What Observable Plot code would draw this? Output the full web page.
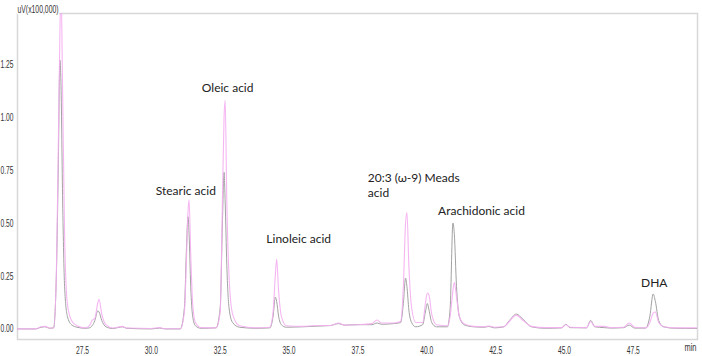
<!DOCTYPE html>
<html>
<head>
<meta charset="utf-8">
<script src="https://cdn.jsdelivr.net/npm/d3@7"></script>
<script src="https://cdn.jsdelivr.net/npm/@observablehq/plot@0.6"></script>
<style>
  html, body { margin: 0; padding: 0; background: #fff; }
  #chart { width: 702px; height: 356px; }
</style>
</head>
<body>
<div id="chart"></div>
<script>
// Retention time (min)
const times = [
  25.1, 25.8, 26.0, 26.15, 26.3, 26.45, 26.55, 26.62, 26.68, 26.72, 26.78, 26.85, 26.95, 27.1, 27.3, 27.6,
  27.75, 27.85, 27.95, 28.05, 28.1, 28.2, 28.35, 28.6, 28.95, 29.1, 30.0, 30.3, 30.5,
  31.05, 31.2, 31.28, 31.33, 31.37, 31.43, 31.5, 31.6, 31.8,
  32.35, 32.5, 32.58, 32.64, 32.68, 32.74, 32.82, 32.95, 33.2, 33.8,
  34.3, 34.42, 34.5, 34.55, 34.62, 34.72, 34.9,
  35.5, 36.0, 36.5, 36.8, 37.0, 37.5, 38.0, 38.2, 38.35, 38.8,
  39.05, 39.15, 39.23, 39.28, 39.35, 39.45, 39.6,
  39.85, 39.95, 40.02, 40.08, 40.18, 40.35,
  40.75, 40.85, 40.95, 41.0, 41.08, 41.18, 41.35, 41.7,
  42.1, 42.25, 42.45, 42.8, 43.0, 43.25, 43.5, 43.8, 44.3,
  44.9, 45.05, 45.2, 45.8, 45.95, 46.1, 46.45, 46.7,
  47.15, 47.35, 47.55, 47.95, 48.1, 48.22, 48.3, 48.42, 48.6, 49.0, 49.8
];
// Sample 1 (gray trace), uV x100,000
const graySignal = [
  0.0, 0.0, 0.008, 0.01, 0.003, 0.005, 0.25, 0.75, 1.27, 1.15, 0.6, 0.2, 0.06, 0.02, 0.008, 0.003,
  0.005, 0.015, 0.04, 0.085, 0.08, 0.04, 0.01, 0.002, 0.01, 0.003, 0.0, 0.004, 0.0,
  0.0, 0.1, 0.4, 0.53, 0.45, 0.2, 0.06, 0.015, 0.003,
  0.005, 0.1, 0.5, 0.74, 0.6, 0.3, 0.1, 0.03, 0.008, 0.003,
  0.005, 0.06, 0.15, 0.13, 0.06, 0.02, 0.008,
  0.01, 0.013, 0.016, 0.025, 0.018, 0.02, 0.02, 0.028, 0.022, 0.025,
  0.03, 0.12, 0.24, 0.2, 0.09, 0.03, 0.01,
  0.02, 0.08, 0.12, 0.09, 0.03, 0.01,
  0.01, 0.1, 0.5, 0.45, 0.2, 0.06, 0.02, 0.01,
  0.008, 0.012, 0.005, 0.01, 0.04, 0.07, 0.045, 0.01, 0.003,
  0.005, 0.022, 0.006, 0.005, 0.04, 0.01, 0.006, 0.004,
  0.006, 0.018, 0.004, 0.004, 0.06, 0.165, 0.13, 0.04, 0.01, 0.003, 0.002
];
// Sample 2 (pink trace)
const pinkSignal = [
  0.0, 0.0, 0.01, 0.012, 0.004, 0.005, 0.25, 0.85, 1.4, 1.62, 1.1, 0.45, 0.12, 0.04, 0.015, 0.005,
  0.015, 0.04, 0.05, 0.12, 0.14, 0.07, 0.02, 0.004, 0.012, 0.004, 0.002, 0.006, 0.001,
  0.001, 0.08, 0.35, 0.55, 0.61, 0.35, 0.12, 0.03, 0.006,
  0.005, 0.08, 0.6, 1.0, 1.08, 0.6, 0.25, 0.07, 0.015, 0.005,
  0.008, 0.08, 0.25, 0.33, 0.18, 0.06, 0.015,
  0.012, 0.016, 0.016, 0.028, 0.018, 0.02, 0.025, 0.042, 0.028, 0.028,
  0.035, 0.2, 0.5, 0.55, 0.3, 0.1, 0.03,
  0.03, 0.12, 0.17, 0.16, 0.07, 0.02,
  0.015, 0.06, 0.18, 0.22, 0.15, 0.06, 0.025, 0.012,
  0.01, 0.014, 0.008, 0.01, 0.035, 0.065, 0.04, 0.012, 0.006,
  0.006, 0.02, 0.008, 0.006, 0.035, 0.012, 0.012, 0.006,
  0.008, 0.028, 0.008, 0.005, 0.03, 0.075, 0.08, 0.03, 0.01, 0.005, 0.005
];
// Peak annotations
const peakLabels = ["Stearic acid", "Oleic acid", "Linoleic acid", "20:3 (ω-9) Meads\nacid", "Arachidonic acid", "DHA"];
const peakLabelTimes = [31.25, 32.77, 35.35, 37.86, 40.41, 48.26];
const peakLabelValues = [0.654, 1.144, 0.428, 0.68, 0.56, 0.221];
const peakLabelAnchors = ["middle", "middle", "middle", "start", "start", "middle"];
// Axis ticks
const xTicks = [27.5, 30.0, 32.5, 35.0, 37.5, 40.0, 42.5, 45.0, 47.5];
const yTicks = [0, 0.25, 0.5, 0.75, 1.0, 1.25];

const grayData = times.map((t, i) => ({t, v: graySignal[i]}));
const pinkData = times.map((t, i) => ({t, v: pinkSignal[i]}));
const labelData = peakLabels.map((text, i) => ({text, t: peakLabelTimes[i], v: peakLabelValues[i], anchor: peakLabelAnchors[i]}));

const axisFont = "'Liberation Sans', Arial, sans-serif";
const labelFont = "Lato, 'Open Sans', sans-serif";

const chart = Plot.plot({
  width: 702,
  height: 356,
  marginLeft: 17,
  marginRight: 5,
  marginTop: 13,
  marginBottom: 17,
  x: {domain: [25.14, 49.83]},
  y: {domain: [-0.05, 1.49]},
  style: {background: "#fff", overflow: "visible"},
  marks: [
    Plot.frame({stroke: "#d8d8d8", strokeWidth: 1.5}),
    Plot.line(grayData, {x: "t", y: "v", stroke: "#a2a2a2", strokeWidth: 1, curve: "monotone-x", clip: true}),
    Plot.line(pinkData, {x: "t", y: "v", stroke: "#f4aef1", strokeWidth: 1.1, strokeOpacity: 0.9, curve: "monotone-x", clip: true}),
    Plot.axisY({ticks: yTicks, tickSize: 0, tickPadding: 4, tickFormat: d3.format(".2f"), label: null, fontSize: 11, fontFamily: axisFont, fill: "#333"}),
    Plot.axisX({ticks: xTicks, tickSize: 0, tickPadding: 7, tickFormat: d3.format(".1f"), label: null, fontSize: 11, fontFamily: axisFont, fill: "#333"}),
    Plot.text(["uV(x100,000)"], {frameAnchor: "top-left", dy: -8, dx: 0, text: d => d, fontSize: 11, fontFamily: axisFont, fill: "#333", textAnchor: "start", stroke: "#fff", strokeWidth: 4, paintOrder: "stroke"}),
    Plot.text(["min"], {frameAnchor: "bottom-right", dy: 11, dx: -1, text: d => d, fontSize: 11, fontFamily: axisFont, fill: "#333", textAnchor: "end"}),
    Plot.text(labelData.filter(d => d.anchor === "middle"), {x: "t", y: "v", text: "text", textAnchor: "middle", fontSize: 12, fontFamily: labelFont, fill: "#222", lineHeight: 1.25}),
    Plot.text(labelData.filter(d => d.anchor === "start"), {x: "t", y: "v", text: "text", textAnchor: "start", fontSize: 12, fontFamily: labelFont, fill: "#222", lineHeight: 1.25})
  ]
});
document.getElementById("chart").appendChild(chart);

// Condense the axis texts to match the narrow font of the original instrument software
const condense = {"uV(x100,000)": 41, "min": 12};
d3.select(chart).selectAll("text").each(function () {
  const s = this.textContent;
  if (/^\d\.\d\d$/.test(s) || /^\d\d\.\d$/.test(s)) { this.setAttribute("textLength", 13); this.setAttribute("lengthAdjust", "spacingAndGlyphs"); }
  else if (condense[s]) { this.setAttribute("textLength", condense[s]); this.setAttribute("lengthAdjust", "spacingAndGlyphs"); }
});
</script>
</body>
</html>
